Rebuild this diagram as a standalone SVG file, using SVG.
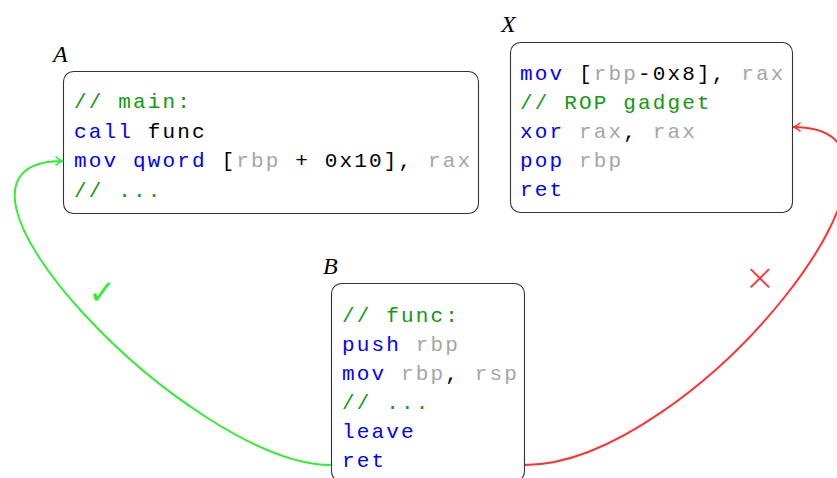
<svg xmlns="http://www.w3.org/2000/svg" width="837" height="478" viewBox="0 0 837 478">
  <style>
    .box { fill: #ffffff; stroke: #333333; stroke-width: 1.1; }
    .code { font-family: "Liberation Mono", "DejaVu Sans Mono", monospace; font-size: 21px; letter-spacing: 2.15px; white-space: pre; }
    .kw { fill: #0000ff; }
    .cm { fill: #119911; }
    .rg { fill: #a6a6a6; }
    .tx { fill: #000000; }
    .lbl { font-family: "Liberation Serif", serif; font-style: italic; font-size: 24px; fill: #000000; }
    .ok { fill: none; stroke: #33ee33; stroke-width: 2; }
    .bad { fill: none; stroke: #ff3333; stroke-width: 2; }
  </style>
  <defs>
    <marker id="tipGreen" viewBox="0 0 10 10" refX="9" refY="5" markerWidth="10" markerHeight="10" markerUnits="userSpaceOnUse" orient="auto">
      <path d="M2,1 Q5,4 9,5 Q5,6 2,9" fill="none" stroke="#33ee33" stroke-width="1.6" stroke-linecap="round"/>
    </marker>
    <marker id="tipRed" viewBox="0 0 10 10" refX="9" refY="5" markerWidth="10" markerHeight="10" markerUnits="userSpaceOnUse" orient="auto">
      <path d="M2,1 Q5,4 9,5 Q5,6 2,9" fill="none" stroke="#ff3333" stroke-width="1.6" stroke-linecap="round"/>
    </marker>
  </defs>

  <!-- caller: main -->
  <g id="nodeA">
    <rect class="box" x="63.5" y="71.5" width="415" height="142" rx="10"/>
    <text class="lbl" x="53" y="62">A</text>
    <text class="code" x="74" y="108"><tspan class="cm">// main:</tspan></text>
    <text class="code" x="74" y="137.5"><tspan class="kw">call</tspan><tspan class="tx"> func</tspan></text>
    <text class="code" x="74" y="167"><tspan class="kw">mov qword</tspan><tspan class="tx"> [</tspan><tspan class="rg">rbp</tspan><tspan class="tx"> + 0x10], </tspan><tspan class="rg">rax</tspan></text>
    <text class="code" x="74" y="196.5"><tspan class="cm">// ...</tspan></text>
  </g>

  <!-- gadget reached through an overwritten return address -->
  <g id="nodeX">
    <rect class="box" x="510.5" y="42.5" width="282" height="170" rx="10"/>
    <text class="lbl" x="501" y="32">X</text>
    <text class="code" x="520" y="80"><tspan class="kw">mov</tspan><tspan class="tx"> [</tspan><tspan class="rg">rbp</tspan><tspan class="tx">-0x8], </tspan><tspan class="rg">rax</tspan></text>
    <text class="code" x="520" y="109"><tspan class="cm">// ROP gadget</tspan></text>
    <text class="code" x="520" y="138"><tspan class="kw">xor</tspan><tspan class="tx"> </tspan><tspan class="rg">rax</tspan><tspan class="tx">, </tspan><tspan class="rg">rax</tspan></text>
    <text class="code" x="520" y="167"><tspan class="kw">pop</tspan><tspan class="tx"> </tspan><tspan class="rg">rbp</tspan></text>
    <text class="code" x="520" y="196"><tspan class="kw">ret</tspan></text>
  </g>

  <!-- callee: func -->
  <g id="nodeB">
    <rect class="box" x="331.5" y="283.5" width="193" height="198" rx="10"/>
    <text class="lbl" x="323" y="274">B</text>
    <text class="code" x="342" y="322"><tspan class="cm">// func:</tspan></text>
    <text class="code" x="342" y="351"><tspan class="kw">push</tspan><tspan class="tx"> </tspan><tspan class="rg">rbp</tspan></text>
    <text class="code" x="342" y="380"><tspan class="kw">mov</tspan><tspan class="tx"> </tspan><tspan class="rg">rbp</tspan><tspan class="tx">, </tspan><tspan class="rg">rsp</tspan></text>
    <text class="code" x="342" y="409"><tspan class="cm">// ...</tspan></text>
    <text class="code" x="342" y="438"><tspan class="kw">leave</tspan></text>
    <text class="code" x="342" y="467"><tspan class="kw">ret</tspan></text>
  </g>

  <!-- return edges -->
  <g id="connectors">
    <path class="ok" d="M331,465 C190,465 -100,161 63,161" marker-end="url(#tipGreen)"/>
    <text x="102" y="304" font-family="DejaVu Sans, sans-serif" font-weight="200" font-size="34" fill="#33ee33" text-anchor="middle">✓</text>
    <path class="bad" d="M525,465 C693,465 962,127 793,127" marker-end="url(#tipRed)"/>
    <text x="760" y="290" font-family="DejaVu Sans, sans-serif" font-weight="200" font-size="38" fill="#ff3333" text-anchor="middle">×</text>
  </g>
</svg>
